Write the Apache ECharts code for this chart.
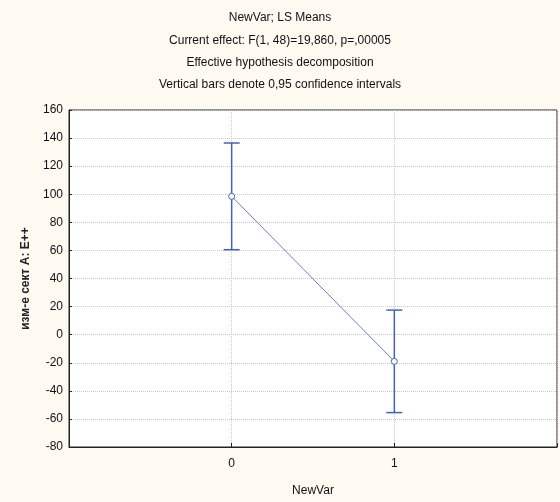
<!DOCTYPE html>
<html>
<head>
<meta charset="utf-8">
<script src="https://cdn.jsdelivr.net/npm/echarts@6/dist/echarts.min.js"></script>
<style>
html,body{margin:0;padding:0;background:#fffaf2;}
#c{width:560px;height:502px;}
</style>
</head>
<body>
<div id="c"></div>
<script>
const categories = [0, 1];
const means = [98.5, -19];
const lower = [60.5, -55.5];
const upper = [136.5, 17.5];
const titleLines = [
  'NewVar; LS Means',
  'Current effect: F(1, 48)=19,860, p=,00005',
  'Effective hypothesis decomposition',
  'Vertical bars denote 0,95 confidence intervals'
];
const xName = 'NewVar';
const yName = 'изм-е сект А: Е++';

const chart = echarts.init(document.getElementById('c'));
const font = 'Liberation Sans, Arial, sans-serif';
const blue = '#4560b8';
const titleY = [7, 30, 52, 74];

const option = {
  backgroundColor: '#fffaf2',
  animation: false,
  title: titleLines.map((t, i) => ({
    text: t, left: 'center', top: titleY[i],
    textStyle: {fontFamily: font, fontSize: 12, fontWeight: 'normal', color: '#111'}
  })),
  grid: {left: 69, right: 1, top: 110, bottom: 55, show: true, backgroundColor: '#ffffff', borderColor: '#222', borderWidth: 1},
  xAxis: {
    type: 'value', min: -1, max: 2, interval: 1,
    name: xName, nameLocation: 'middle', nameGap: 38,
    nameTextStyle: {fontFamily: font, fontSize: 12, color: '#111'},
    axisLine: {show: true, onZero: false, lineStyle: {color: '#222'}},
    axisTick: {show: true, inside: true, length: 4, lineStyle: {color: '#222'}},
    axisLabel: {fontFamily: font, fontSize: 12, color: '#111', margin: 11,
      formatter: v => (categories.indexOf(v) >= 0 ? String(v) : '')},
    splitLine: {show: true, lineStyle: {color: '#c8c8c8', type: 'dotted'}}
  },
  yAxis: {
    type: 'value', min: -80, max: 160, interval: 20,
    name: yName, nameLocation: 'middle', nameGap: 37,
    nameTextStyle: {fontFamily: font, fontSize: 12, fontWeight: 'bold', color: '#222'},
    axisLine: {show: true, onZero: false, lineStyle: {color: '#222'}},
    axisTick: {show: true, inside: true, length: 3, lineStyle: {color: '#222'}},
    axisLabel: {fontFamily: font, fontSize: 12, color: '#111', margin: 6},
    splitLine: {show: true, lineStyle: {color: '#c8c8c8', type: 'dotted'}}
  },
  series: [
    {
      type: 'custom',
      data: categories.map((c, i) => [c, lower[i], upper[i]]),
      renderItem: function (params, api) {
        const x = api.value(0);
        const lo = api.coord([x, api.value(1)]);
        const hi = api.coord([x, api.value(2)]);
        const hw = 8;
        const st = {stroke: blue, lineWidth: 1.5, fill: null};
        return {
          type: 'group',
          children: [
            {type: 'line', shape: {x1: lo[0], y1: lo[1], x2: hi[0], y2: hi[1]}, style: st},
            {type: 'line', shape: {x1: lo[0] - hw, y1: lo[1], x2: lo[0] + hw, y2: lo[1]}, style: st},
            {type: 'line', shape: {x1: hi[0] - hw, y1: hi[1], x2: hi[0] + hw, y2: hi[1]}, style: st}
          ]
        };
      },
      z: 2
    },
    {
      type: 'line',
      data: categories.map((c, i) => [c, means[i]]),
      symbol: 'circle', symbolSize: 6,
      itemStyle: {color: '#ffffff', borderColor: blue, borderWidth: 1},
      lineStyle: {color: '#6a80c4', width: 1},
      z: 3
    }
  ]
};
chart.setOption(option);
</script>
</body>
</html>
